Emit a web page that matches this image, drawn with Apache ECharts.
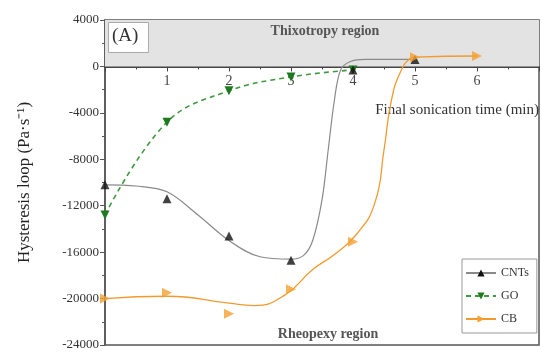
<!DOCTYPE html>
<html>
<head>
<meta charset="utf-8">
<script src="https://cdn.jsdelivr.net/npm/echarts@6/dist/echarts.min.js"></script>
<style>
html,body{margin:0;padding:0;background:#fff;}
#chart{width:542px;height:354px;}
</style>
</head>
<body>
<div id="chart"></div>
<script>
// measured points
var timeX = [0, 1, 2, 3, 4, 5, 6];
var cntY = [-10200, -11400, -14600, -16700, -300, 600];
var goY = [-12800, -4800, -2100, -900, -300];
var cbY = [-20000, -19500, -21300, -19200, -15100, 800, 900];

// fitted curves
var cntFitX = [0, 0.5, 1, 1.5, 2, 2.5, 3, 3.2, 3.35, 3.5, 3.6, 3.7, 3.8, 3.95, 4.2, 5];
var cntFitY = [-10200, -10300, -10800, -12800, -15000, -16400, -16600, -16300, -15000, -11500, -7200, -2900, -300, 400, 600, 600];
var cbFitX = [0, 1, 2, 2.4, 2.9, 3.35, 3.7, 4.05, 4.35, 4.5, 4.62, 4.78, 4.93, 5, 6];
var cbFitY = [-20000, -19800, -20400, -20600, -19700, -17500, -16200, -14500, -11800, -7200, -2900, -300, 700, 800, 900];

var yMin = -24000, yMax = 4000, yStep = 4000;
var xLabels = ['1', '2', '3', '4', '5', '6'];

function pairs(xs, ys){
	var out = [];
	for (var i = 0; i < ys.length; i++) out.push([xs[i], ys[i]]);
	return out;
}

var serif = 'Liberation Serif';
var gridTop = 20, gridBottom = 9, H = 354;
var plotH = H - gridTop - gridBottom;
// x axis sits on y = 0, moved up from the bottom of the grid
var xOffset = -plotH * (0 - yMin) / (yMax - yMin);

var chart = echarts.init(document.getElementById('chart'));

var option = {
	animation: false,
	textStyle: {fontFamily: serif},
	grid: {left: 105, right: 2, top: gridTop, bottom: gridBottom, show: true, borderColor: '#555', borderWidth: 1.5},
	legend: {
		orient: 'vertical', left: 462, top: 259, padding: [8, 8, 8, 3],
		borderColor: '#999', borderWidth: 1, backgroundColor: '#fff',
		itemWidth: 30, itemHeight: 9, itemGap: 11,
		textStyle: {fontFamily: serif, fontSize: 12, color: '#333'},
		data: ['CNTs', 'GO', 'CB']
	},
	xAxis: {
		type: 'value', min: 0, max: 7, interval: 1,
		offset: xOffset,
		name: 'Final sonication time (min)', nameLocation: 'end',
		nameGap: 0,
		nameTextStyle: {fontFamily: serif, fontSize: 15, color: '#333', align: 'right', verticalAlign: 'top', padding: [36, 0, 0, 0]},
		axisLine: {onZero: false, lineStyle: {color: '#444', width: 2}},
		axisTick: {length: 5, lineStyle: {color: '#444'}},
		minorTick: {show: true, splitNumber: 2, length: 3, lineStyle: {color: '#444'}},
		splitLine: {show: false},
		axisLabel: {
			margin: 8, fontSize: 14, color: '#444', fontFamily: serif,
			formatter: function(v){ return xLabels.indexOf(String(v)) >= 0 ? String(v) : ''; }
		}
	},
	yAxis: {
		type: 'value', min: yMin, max: yMax, interval: yStep,
		name: 'Hysteresis loop (Pa·s⁻¹)', nameLocation: 'middle', nameGap: 72,
		nameTextStyle: {fontFamily: serif, fontSize: 17, color: '#222'},
		axisLine: {show: true, onZero: false, lineStyle: {color: '#555', width: 1.5}},
		axisTick: {length: 5, lineStyle: {color: '#555'}},
		minorTick: {show: true, splitNumber: 2, length: 3, lineStyle: {color: '#555'}},
		splitLine: {show: false},
		axisLabel: {margin: 6, fontSize: 13, color: '#333', fontFamily: serif,
			formatter: function(v){ return String(v); }}
	},
	graphic: [
		{type: 'rect', left: 108, top: 22, shape: {width: 40, height: 30}, style: {fill: '#fff', stroke: '#aaa', lineWidth: 1}, z: 10},
		{type: 'text', left: 112, top: 27, style: {text: '(A)', font: '19px "Liberation Serif"', fill: '#333'}, z: 11},
		{type: 'text', x: 325, y: 31, style: {text: 'Thixotropy region', font: 'bold 14px "Liberation Serif"', fill: '#555', align: 'center', verticalAlign: 'middle'}, z: 11},
		{type: 'text', x: 328, y: 334, style: {text: 'Rheopexy region', font: 'bold 14px "Liberation Serif"', fill: '#555', align: 'center', verticalAlign: 'middle'}, z: 11}
	],
	series: [
		{
			name: 'CNTs', type: 'line', data: pairs(cntFitX, cntFitY), smooth: 0.35,
			symbol: 'triangle', symbolSize: 8, showSymbol: false,
			lineStyle: {color: '#8a8a8a', width: 1.2}, itemStyle: {color: '#111'}, z: 3,
			markArea: {silent: true, itemStyle: {color: '#e3e3e3'}, data: [[{yAxis: 0}, {yAxis: 4000}]]}
		},
		{
			name: 'CNTs', type: 'scatter', data: pairs(timeX, cntY),
			symbol: 'triangle', symbolSize: 9, itemStyle: {color: '#111'}, z: 5
		},
		{
			name: 'GO', type: 'line', data: pairs(timeX, goY), smooth: 0.4,
			symbol: 'triangle', symbolRotate: 180, symbolSize: 9,
			lineStyle: {color: '#3f9a3f', width: 1.6, type: [5, 4]}, itemStyle: {color: '#1f7a1f'}, z: 4
		},
		{
			name: 'CB', type: 'line', data: pairs(cbFitX, cbFitY), smooth: 0.5,
			symbol: 'triangle', symbolRotate: -90, symbolSize: 9, showSymbol: false,
			lineStyle: {color: '#f29a2e', width: 1.3}, itemStyle: {color: '#f5a030'}, z: 3
		},
		{
			name: 'CB', type: 'scatter', data: pairs(timeX, cbY),
			symbol: 'triangle', symbolRotate: -90, symbolSize: 10, itemStyle: {color: '#f5a030'}, z: 5
		}
	]
};

chart.setOption(option);
</script>
</body>
</html>
